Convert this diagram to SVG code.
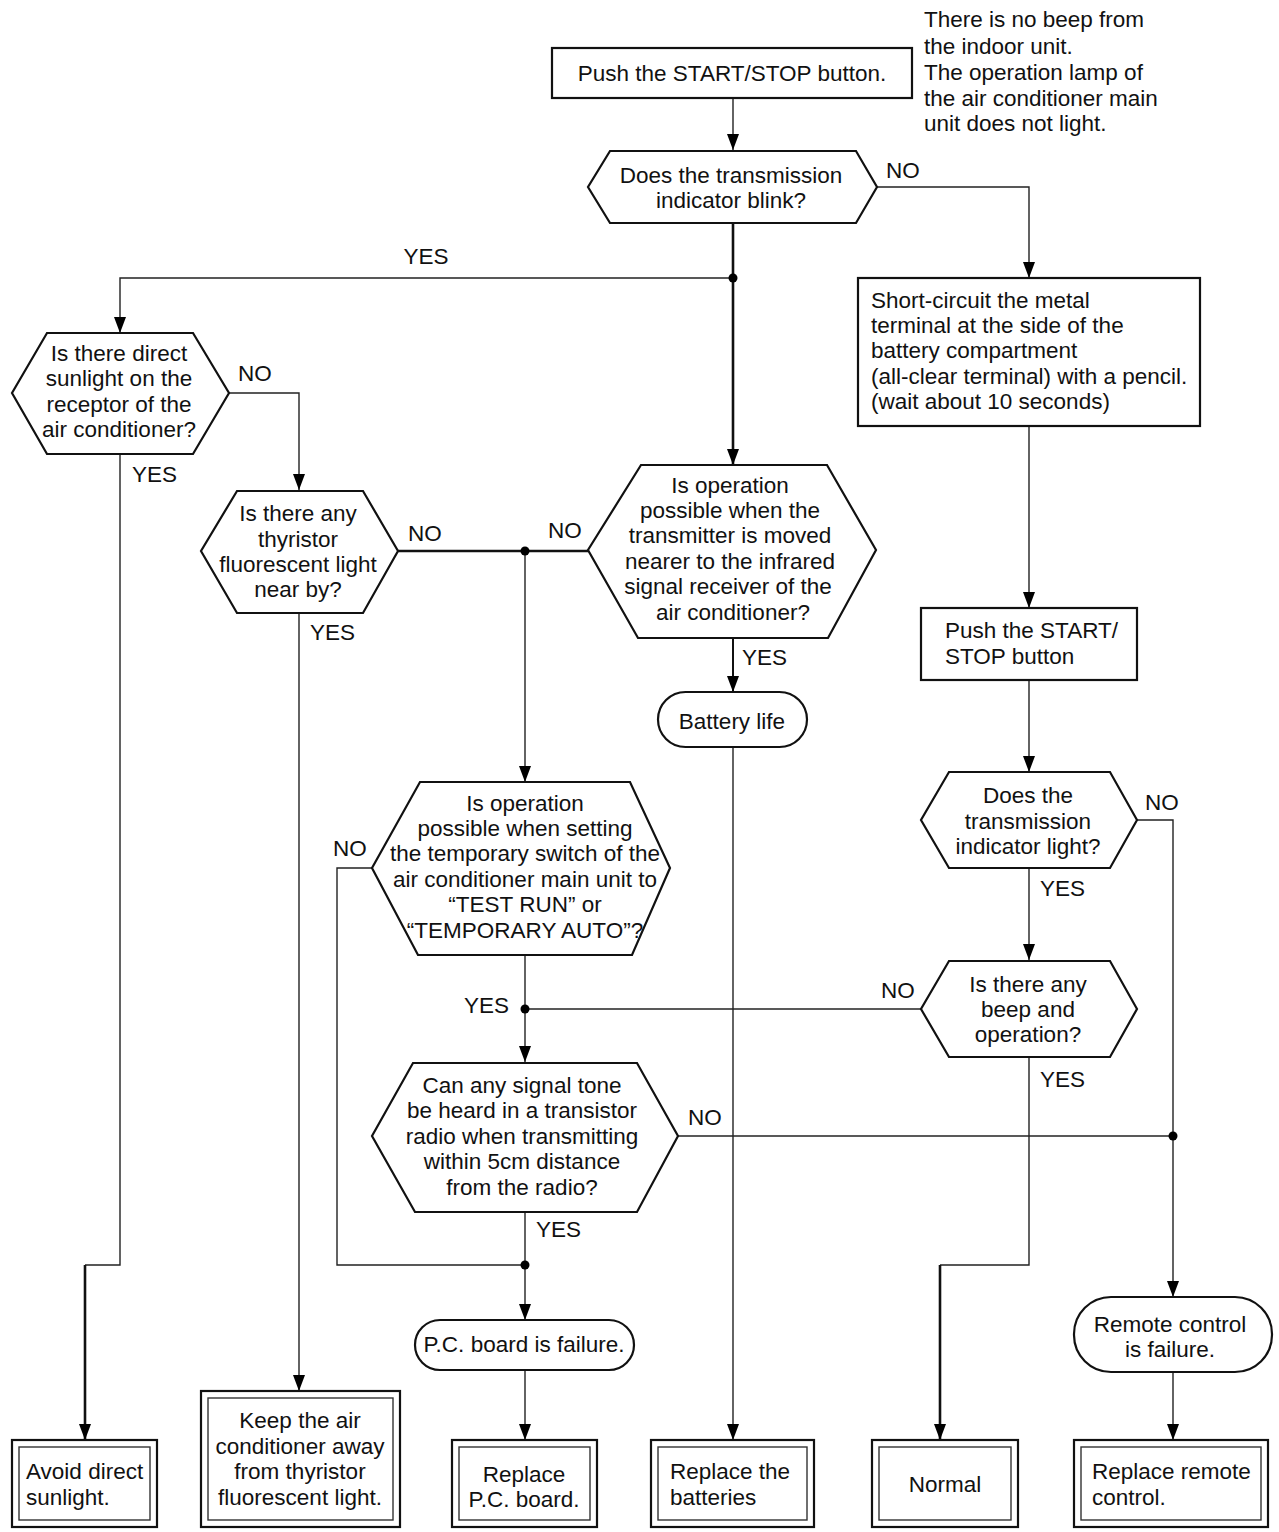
<svg xmlns="http://www.w3.org/2000/svg" width="1279" height="1532" viewBox="0 0 1279 1532">
<defs>
<marker id="arr" viewBox="0 0 16 12" refX="16" refY="6" markerWidth="16" markerHeight="12" markerUnits="userSpaceOnUse" orient="auto">
<path d="M0,0 L16,6 L0,12 z" fill="#000"/>
</marker>
<style>
text{font-family:"Liberation Sans",Arial,sans-serif;font-size:22.5px;fill:#111}
.m{text-anchor:middle}
.shape{fill:#fff;stroke:#111;stroke-width:2.2}
.inner{fill:none;stroke:#333;stroke-width:1.4}
.c{fill:none;stroke:#222;stroke-width:1.4}
.ca{fill:none;stroke:#222;stroke-width:1.4;marker-end:url(#arr)}
.t{fill:none;stroke:#111;stroke-width:2.6}
.ta{fill:none;stroke:#111;stroke-width:2.6;marker-end:url(#arr)}
.dot{fill:#000}
</style>
</defs>
<rect width="1279" height="1532" fill="#fff"/>

<g id="note">
<text x="924" y="27">There is no beep from</text>
<text x="924" y="54">the indoor unit.</text>
<text x="924" y="80">The operation lamp of</text>
<text x="924" y="106">the air conditioner main</text>
<text x="924" y="131">unit does not light.</text>
</g>

<g id="connectors">
<path class="ca" d="M733,98 V150"/>
<path class="ca" d="M877,187 H1029 V278"/>
<path class="ta" d="M733,223 V465"/>
<path class="ca" d="M733,278 H120 V333"/>
<path class="ca" d="M229,393 H299 V490"/>
<path class="c" d="M120,454 V1265 H85"/>
<path class="ta" d="M85,1265 V1440"/>
<path class="ca" d="M299,613 V1391"/>
<path class="t" d="M398,551 H588"/>
<path class="ca" d="M525,551 V782"/>
<path class="ta" d="M733,638 V692" style="stroke-width:2"/>
<path class="ca" d="M733,747 V1440"/>
<path class="c" d="M372,868 H337 V1265 H525"/>
<path class="ca" d="M525,955 V1062"/>
<path class="c" d="M525,1009 H921"/>
<path class="c" d="M678,1136 H1173"/>
<path class="ca" d="M525,1212 V1320"/>
<path class="ca" d="M525,1370 V1440"/>
<path class="ca" d="M1029,426 V608"/>
<path class="ca" d="M1029,680 V772"/>
<path class="ca" d="M1137,820 H1173 V1297"/>
<path class="ca" d="M1029,868 V960"/>
<path class="c" d="M1029,1057 V1265 H940"/>
<path class="ta" d="M940,1265 V1440"/>
<path class="ca" d="M1173,1372 V1440"/>
<circle class="dot" cx="733" cy="278" r="4.5"/>
<circle class="dot" cx="525" cy="551" r="4.5"/>
<circle class="dot" cx="525" cy="1009" r="4.5"/>
<circle class="dot" cx="525" cy="1265" r="4.5"/>
<circle class="dot" cx="1173" cy="1136" r="4.5"/>
<text x="886" y="178">NO</text>
<text class="m" x="426" y="264">YES</text>
<text x="238" y="381">NO</text>
<text x="132" y="482">YES</text>
<text x="408" y="541">NO</text>
<text x="548" y="538">NO</text>
<text x="310" y="640">YES</text>
<text x="742" y="665">YES</text>
<text x="333" y="856">NO</text>
<text x="464" y="1013">YES</text>
<text x="881" y="998">NO</text>
<text x="688" y="1125">NO</text>
<text x="536" y="1237">YES</text>
<text x="1145" y="810">NO</text>
<text x="1040" y="896">YES</text>
<text x="1040" y="1087">YES</text>
</g>

<g id="start">
<rect class="shape" x="552" y="48" width="360" height="50"/>
<text class="m" x="732" y="81">Push the START/STOP button.</text>
</g>

<g id="d_blink">
<polygon class="shape" points="610,151 856,151 877,187 856,223 610,223 588,187"/>
<text class="m" x="731" y="183">Does the transmission</text>
<text class="m" x="731" y="208">indicator blink?</text>
</g>

<g id="d_sunlight">
<polygon class="shape" points="47,333 193,333 229,393 193,454 47,454 12,393"/>
<text class="m" x="119" y="361">Is there direct</text>
<text class="m" x="119" y="386">sunlight on the</text>
<text class="m" x="119" y="412">receptor of the</text>
<text class="m" x="119" y="437">air conditioner?</text>
</g>

<g id="d_thyristor">
<polygon class="shape" points="237,491 363,491 398,551 363,613 237,613 201,551"/>
<text class="m" x="298" y="521">Is there any</text>
<text class="m" x="298" y="547">thyristor</text>
<text class="m" x="298" y="572">fluorescent light</text>
<text class="m" x="298" y="597">near by?</text>
</g>

<g id="d_nearer">
<polygon class="shape" points="641,465 827,465 876,550 828,638 638,638 588,550"/>
<text class="m" x="730" y="493">Is operation</text>
<text class="m" x="730" y="518">possible when the</text>
<text class="m" x="730" y="543">transmitter is moved</text>
<text class="m" x="730" y="569">nearer to the infrared</text>
<text class="m" x="728" y="594">signal receiver of the</text>
<text class="m" x="733" y="620">air conditioner?</text>
</g>

<g id="battery">
<rect class="shape" x="658" y="692" width="149" height="55" rx="27.5"/>
<text class="m" x="732" y="729">Battery life</text>
</g>

<g id="d_temp">
<polygon class="shape" points="420,782 630,782 670,868 632,955 418,955 372,868"/>
<text class="m" x="525" y="811">Is operation</text>
<text class="m" x="525" y="836">possible when setting</text>
<text class="m" x="525" y="861">the temporary switch of the</text>
<text class="m" x="525" y="887">air conditioner main unit to</text>
<text class="m" x="525" y="912">“TEST RUN” or</text>
<text class="m" x="525" y="938">“TEMPORARY AUTO”?</text>
</g>

<g id="d_tone">
<polygon class="shape" points="413,1063 637,1063 678,1136 637,1212 415,1212 372,1136"/>
<text class="m" x="522" y="1093">Can any signal tone</text>
<text class="m" x="522" y="1118">be heard in a transistor</text>
<text class="m" x="522" y="1144">radio when transmitting</text>
<text class="m" x="522" y="1169">within 5cm distance</text>
<text class="m" x="522" y="1195">from the radio?</text>
</g>

<g id="pcfail">
<rect class="shape" x="415" y="1320" width="219" height="50" rx="25"/>
<text class="m" x="524" y="1352">P.C. board is failure.</text>
</g>

<g id="shortcircuit">
<rect class="shape" x="858" y="278" width="342" height="148"/>
<text x="871" y="308">Short-circuit the metal</text>
<text x="871" y="333">terminal at the side of the</text>
<text x="871" y="358">battery compartment</text>
<text x="871" y="384">(all-clear terminal) with a pencil.</text>
<text x="871" y="409">(wait about 10 seconds)</text>
</g>

<g id="push2">
<rect class="shape" x="921" y="608" width="216" height="72"/>
<text x="945" y="638">Push the START/</text>
<text x="945" y="664">STOP button</text>
</g>

<g id="d_light">
<polygon class="shape" points="949,772 1110,772 1137,820 1110,868 949,868 921,820"/>
<text class="m" x="1028" y="803">Does the</text>
<text class="m" x="1028" y="829">transmission</text>
<text class="m" x="1028" y="854">indicator light?</text>
</g>

<g id="d_beep">
<polygon class="shape" points="949,961 1110,961 1137,1009 1110,1057 949,1057 921,1009"/>
<text class="m" x="1028" y="992">Is there any</text>
<text class="m" x="1028" y="1017">beep and</text>
<text class="m" x="1028" y="1042">operation?</text>
</g>

<g id="remotefail">
<rect class="shape" x="1074" y="1297" width="198" height="75" rx="37"/>
<text class="m" x="1170" y="1332">Remote control</text>
<text class="m" x="1170" y="1357">is failure.</text>
</g>

<g id="avoid">
<rect class="shape" x="12" y="1440" width="145" height="87"/>
<rect class="inner" x="19" y="1447" width="131" height="73"/>
<text x="26" y="1479">Avoid direct</text>
<text x="26" y="1505">sunlight.</text>
</g>

<g id="keep">
<rect class="shape" x="201" y="1391" width="199" height="136"/>
<rect class="inner" x="208" y="1398" width="185" height="122"/>
<text class="m" x="300" y="1428">Keep the air</text>
<text class="m" x="300" y="1454">conditioner away</text>
<text class="m" x="300" y="1479">from thyristor</text>
<text class="m" x="300" y="1505">fluorescent light.</text>
</g>

<g id="replacepc">
<rect class="shape" x="452" y="1440" width="145" height="87"/>
<rect class="inner" x="459" y="1447" width="131" height="73"/>
<text class="m" x="524" y="1482">Replace</text>
<text class="m" x="524" y="1507">P.C. board.</text>
</g>

<g id="batteries">
<rect class="shape" x="651" y="1440" width="163" height="87"/>
<rect class="inner" x="658" y="1447" width="149" height="73"/>
<text x="670" y="1479">Replace the</text>
<text x="670" y="1505">batteries</text>
</g>

<g id="normal">
<rect class="shape" x="872" y="1440" width="146" height="87"/>
<rect class="inner" x="879" y="1447" width="132" height="73"/>
<text class="m" x="945" y="1492">Normal</text>
</g>

<g id="replaceremote">
<rect class="shape" x="1074" y="1440" width="194" height="87"/>
<rect class="inner" x="1081" y="1447" width="180" height="73"/>
<text x="1092" y="1479">Replace remote</text>
<text x="1092" y="1505">control.</text>
</g>
</svg>
